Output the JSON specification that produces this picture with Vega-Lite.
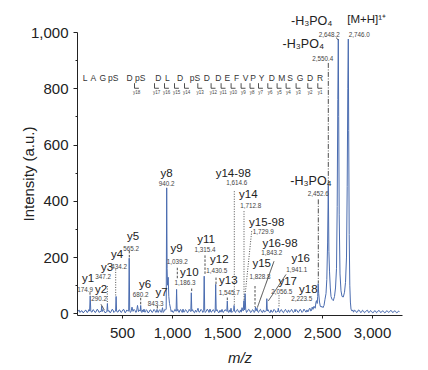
{
  "$schema": "https://vega.github.io/schema/vega-lite/v6.json",
  "width": 325,
  "height": 283,
  "autosize": {"type": "none"},
  "padding": {"left": 77, "top": 32, "right": 26, "bottom": 55},
  "background": "white",
  "config": {
    "view": {"stroke": null},
    "font": "Liberation Sans",
    "axis": {"grid": false, "domainColor": "#222", "tickColor": "#222", "labelColor": "#222", "titleColor": "#222", "labelFontSize": 15, "titleFontSize": 15, "titleFontWeight": "normal", "labelFont": "Liberation Sans", "titleFont": "Liberation Sans"}
  },
  "datasets": {
    "spec": [
      {"m":60,"i":6},{"m":70,"i":12},{"m":80,"i":3},{"m":90,"i":8},{"m":100,"i":9},{"m":110,"i":2},{"m":120,"i":4},{"m":130,"i":10},{"m":140,"i":11},{"m":150,"i":3},{"m":160,"i":5},{"m":168,"i":13},
      {"m":176,"i":8},{"m":182,"i":62},{"m":188,"i":7},
      {"m":200,"i":4},{"m":210,"i":13},{"m":220,"i":10},{"m":230,"i":3},{"m":240,"i":5},{"m":250,"i":14},{"m":260,"i":12},{"m":270,"i":3},{"m":280,"i":6},
      {"m":292,"i":7},{"m":297,"i":25},{"m":302,"i":6},
      {"m":310,"i":13},{"m":320,"i":9},{"m":330,"i":2},{"m":340,"i":4},
      {"m":349,"i":6},{"m":354,"i":35},{"m":359,"i":7},
      {"m":370,"i":10},{"m":380,"i":2},{"m":390,"i":5},{"m":400,"i":14},{"m":410,"i":12},{"m":418,"i":3},{"m":425,"i":6},
      {"m":436,"i":8},{"m":441,"i":60},{"m":446,"i":7},
      {"m":460,"i":4},{"m":470,"i":12},{"m":480,"i":11},{"m":490,"i":3},{"m":500,"i":6},{"m":510,"i":13},{"m":520,"i":13},{"m":530,"i":2},{"m":540,"i":5},{"m":548,"i":12},{"m":555,"i":9},
      {"m":567,"i":8},{"m":572,"i":196},{"m":577,"i":10},
      {"m":584,"i":3},{"m":590,"i":6},{"m":600,"i":22},{"m":610,"i":7},{"m":620,"i":14},{"m":630,"i":10},{"m":638,"i":3},{"m":645,"i":5},{"m":655,"i":28},{"m":665,"i":6},{"m":673,"i":12},
      {"m":682,"i":8},{"m":687,"i":28},{"m":692,"i":7},
      {"m":698,"i":3},{"m":705,"i":12},{"m":712,"i":5},{"m":720,"i":15},{"m":728,"i":4},{"m":735,"i":5},{"m":743,"i":13},{"m":750,"i":10},{"m":760,"i":2},{"m":770,"i":4},{"m":780,"i":12},{"m":790,"i":11},{"m":800,"i":3},{"m":810,"i":6},{"m":820,"i":14},{"m":830,"i":9},{"m":838,"i":3},
      {"m":845,"i":5},{"m":850,"i":14},{"m":855,"i":6},
      {"m":862,"i":3},{"m":870,"i":10},{"m":878,"i":13},{"m":885,"i":5},{"m":895,"i":4},{"m":905,"i":20},{"m":912,"i":3},{"m":920,"i":7},{"m":928,"i":14},{"m":935,"i":12},
      {"m":942,"i":15},{"m":947,"i":446},{"m":951,"i":160},{"m":955,"i":100},{"m":962,"i":128},{"m":968,"i":60},{"m":975,"i":35},{"m":985,"i":18},{"m":992,"i":6},{"m":1000,"i":10},
      {"m":1010,"i":3},{"m":1020,"i":6},{"m":1028,"i":14},{"m":1035,"i":12},
      {"m":1041,"i":7},{"m":1046,"i":85},{"m":1051,"i":9},
      {"m":1058,"i":14},{"m":1065,"i":5},{"m":1072,"i":3},{"m":1080,"i":12},{"m":1088,"i":13},{"m":1095,"i":6},{"m":1102,"i":3},{"m":1110,"i":15},{"m":1118,"i":4},{"m":1125,"i":5},{"m":1135,"i":13},{"m":1145,"i":10},{"m":1155,"i":2},{"m":1165,"i":7},{"m":1172,"i":14},{"m":1180,"i":9},
      {"m":1188,"i":6},{"m":1193,"i":73},{"m":1198,"i":8},
      {"m":1206,"i":13},{"m":1215,"i":5},{"m":1225,"i":2},{"m":1235,"i":11},{"m":1245,"i":4},{"m":1252,"i":10},{"m":1260,"i":18},{"m":1270,"i":4},{"m":1280,"i":6},{"m":1290,"i":14},{"m":1300,"i":10},{"m":1308,"i":3},
      {"m":1317,"i":9},{"m":1322,"i":132},{"m":1327,"i":10},
      {"m":1333,"i":3},{"m":1340,"i":6},{"m":1350,"i":14},{"m":1360,"i":12},{"m":1370,"i":3},{"m":1380,"i":15},{"m":1390,"i":4},{"m":1400,"i":6},{"m":1410,"i":13},{"m":1420,"i":10},{"m":1426,"i":3},
      {"m":1432,"i":8},{"m":1437,"i":103},{"m":1442,"i":9},
      {"m":1450,"i":13},{"m":1460,"i":5},{"m":1470,"i":2},{"m":1480,"i":11},{"m":1490,"i":4},{"m":1500,"i":14},{"m":1510,"i":3},{"m":1520,"i":6},{"m":1530,"i":13},{"m":1540,"i":10},
      {"m":1548,"i":7},{"m":1553,"i":44},{"m":1558,"i":8},
      {"m":1566,"i":3},{"m":1575,"i":12},{"m":1582,"i":4},{"m":1590,"i":18},{"m":1598,"i":3},{"m":1605,"i":6},
      {"m":1616,"i":9},{"m":1621,"i":28},{"m":1626,"i":7},
      {"m":1635,"i":3},{"m":1645,"i":11},{"m":1655,"i":14},{"m":1665,"i":5},{"m":1675,"i":3},{"m":1685,"i":12},{"m":1692,"i":4},{"m":1700,"i":20},{"m":1712,"i":8},
      {"m":1719,"i":45},{"m":1725,"i":12},{"m":1731,"i":70},{"m":1737,"i":15},
      {"m":1745,"i":3},{"m":1755,"i":8},{"m":1765,"i":14},{"m":1775,"i":12},{"m":1785,"i":3},{"m":1795,"i":5},{"m":1805,"i":13},{"m":1815,"i":10},{"m":1822,"i":3},
      {"m":1830,"i":8},{"m":1835,"i":22},{"m":1841,"i":9},{"m":1850,"i":18},{"m":1856,"i":7},
      {"m":1865,"i":3},{"m":1875,"i":11},{"m":1885,"i":14},{"m":1895,"i":5},{"m":1905,"i":3},{"m":1915,"i":12},{"m":1925,"i":4},{"m":1935,"i":8},
      {"m":1943,"i":9},{"m":1948,"i":52},{"m":1953,"i":8},
      {"m":1960,"i":13},{"m":1970,"i":6},{"m":1980,"i":2},{"m":1990,"i":12},{"m":2000,"i":4},{"m":2010,"i":5},{"m":2020,"i":14},{"m":2030,"i":10},{"m":2040,"i":3},{"m":2050,"i":7},
      {"m":2058,"i":6},{"m":2063,"i":18},{"m":2068,"i":7},
      {"m":2076,"i":3},{"m":2085,"i":11},{"m":2095,"i":13},{"m":2105,"i":5},{"m":2115,"i":2},{"m":2125,"i":10},{"m":2135,"i":14},{"m":2145,"i":6},{"m":2155,"i":3},{"m":2165,"i":12},{"m":2175,"i":4},{"m":2185,"i":7},{"m":2195,"i":14},{"m":2205,"i":9},{"m":2212,"i":3},{"m":2220,"i":5},
      {"m":2226,"i":7},{"m":2230,"i":14},{"m":2235,"i":6},
      {"m":2242,"i":13},{"m":2250,"i":10},{"m":2260,"i":3},{"m":2270,"i":6},{"m":2280,"i":14},{"m":2290,"i":11},{"m":2300,"i":3},{"m":2310,"i":7},{"m":2320,"i":15},{"m":2330,"i":9},{"m":2340,"i":4},{"m":2350,"i":12},{"m":2358,"i":5},{"m":2365,"i":8},{"m":2372,"i":16},{"m":2380,"i":18},{"m":2388,"i":8},{"m":2395,"i":10},{"m":2402,"i":22},{"m":2410,"i":14},{"m":2420,"i":25},{"m":2432,"i":18},{"m":2440,"i":40},{"m":2445,"i":45},{"m":2452,"i":35},{"m":2457,"i":60},{"m":2462,"i":105},{"m":2467,"i":70},{"m":2475,"i":40},{"m":2483,"i":25},{"m":2490,"i":22},{"m":2500,"i":25},{"m":2510,"i":20},{"m":2520,"i":28},{"m":2530,"i":50},{"m":2540,"i":70},{"m":2548,"i":120},{"m":2556,"i":250},{"m":2563,"i":460},{"m":2569,"i":220},{"m":2575,"i":150},{"m":2583,"i":90},{"m":2590,"i":60},{"m":2600,"i":50},{"m":2613,"i":45},{"m":2625,"i":60},{"m":2635,"i":90},{"m":2645,"i":160},{"m":2652,"i":380},{"m":2658,"i":760},{"m":2663,"i":975},{"m":2667,"i":700},{"m":2672,"i":350},{"m":2680,"i":140},{"m":2690,"i":80},{"m":2700,"i":60},{"m":2713,"i":58},{"m":2725,"i":75},{"m":2735,"i":110},{"m":2745,"i":200},{"m":2752,"i":450},{"m":2758,"i":800},{"m":2763,"i":975},{"m":2767,"i":650},{"m":2772,"i":280},{"m":2778,"i":100},{"m":2784,"i":40},{"m":2790,"i":15},{"m":2800,"i":8},
      {"m":2808,"i":12},{"m":2815,"i":4},{"m":2825,"i":11},{"m":2835,"i":9},{"m":2845,"i":3},{"m":2855,"i":5},{"m":2865,"i":12},{"m":2875,"i":10},{"m":2885,"i":3},{"m":2895,"i":4},{"m":2905,"i":11},{"m":2915,"i":8},{"m":2925,"i":2},{"m":2935,"i":5},{"m":2945,"i":10},{"m":2955,"i":11},{"m":2965,"i":3},{"m":2975,"i":4},{"m":2985,"i":10},{"m":2995,"i":7},{"m":3005,"i":2},{"m":3015,"i":3},{"m":3025,"i":9},{"m":3035,"i":8},{"m":3045,"i":2},{"m":3055,"i":5},{"m":3065,"i":10},{"m":3075,"i":9},{"m":3085,"i":3},{"m":3095,"i":4},{"m":3105,"i":9},{"m":3115,"i":7},{"m":3125,"i":2},{"m":3135,"i":3},{"m":3145,"i":9},{"m":3155,"i":8},{"m":3165,"i":3},{"m":3175,"i":5},{"m":3185,"i":10},{"m":3195,"i":9},{"m":3205,"i":3},{"m":3215,"i":4},{"m":3225,"i":9},{"m":3235,"i":7},{"m":3245,"i":2},{"m":3255,"i":3},{"m":3265,"i":8},{"m":3275,"i":6}
    ],
    "leaders": [
      {"x":180,"y":75,"x2":180,"y2":64,"d":"dash"},
      {"x":353,"y":97,"x2":353,"y2":38,"d":"dot"},
      {"x":290,"y":32,"x2":323,"y2":12,"d":"solid"},
      {"x":437,"y":156,"x2":437,"y2":62,"d":"dot"},
      {"x":573,"y":222,"x2":573,"y2":198,"d":"dash"},
      {"x":687,"y":55,"x2":687,"y2":30,"d":"dash"},
      {"x":853,"y":26,"x2":853,"y2":15,"d":"dash"},
      {"x":1053,"y":162,"x2":1053,"y2":121,"d":"dash"},
      {"x":1197,"y":88,"x2":1197,"y2":74,"d":"dash"},
      {"x":1330,"y":206,"x2":1330,"y2":135,"d":"dash"},
      {"x":1440,"y":127,"x2":1440,"y2":104,"d":"dash"},
      {"x":1553,"y":56,"x2":1553,"y2":45,"d":"dash"},
      {"x":1623,"y":434,"x2":1623,"y2":29,"d":"dot"},
      {"x":1720,"y":363,"x2":1720,"y2":46,"d":"dot"},
      {"x":1797,"y":292,"x2":1733,"y2":72,"d":"dot"},
      {"x":1830,"y":97,"x2":1830,"y2":22,"d":"dash"},
      {"x":2020,"y":185,"x2":1853,"y2":20,"d":"solid"},
      {"x":2140,"y":138,"x2":1963,"y2":44,"d":"solid"},
      {"x":2070,"y":64,"x2":2070,"y2":20,"d":"dot"},
      {"x":2463,"y":405,"x2":2463,"y2":106,"d":"dashdot"},
      {"x":2563,"y":890,"x2":2563,"y2":462,"d":"dashdot"},
      {"x":2640,"y":980,"x2":2663,"y2":972,"d":"solid"}
    ],
    "brackets": [
      {"x":625,"x2":625,"y":818,"y2":800},{"x":625,"x2":669,"y":800,"y2":800},
      {"x":825,"x2":825,"y":818,"y2":800},{"x":825,"x2":869,"y":800,"y2":800},
      {"x":925,"x2":925,"y":818,"y2":800},{"x":925,"x2":969,"y":800,"y2":800},
      {"x":1025,"x2":1025,"y":818,"y2":800},{"x":1025,"x2":1069,"y":800,"y2":800},
      {"x":1125,"x2":1125,"y":818,"y2":800},{"x":1125,"x2":1169,"y":800,"y2":800},
      {"x":1258,"x2":1258,"y":818,"y2":800},{"x":1258,"x2":1302,"y":800,"y2":800},
      {"x":1391,"x2":1391,"y":818,"y2":800},{"x":1391,"x2":1435,"y":800,"y2":800},
      {"x":1491,"x2":1491,"y":818,"y2":800},{"x":1491,"x2":1535,"y":800,"y2":800},
      {"x":1591,"x2":1591,"y":818,"y2":800},{"x":1591,"x2":1635,"y":800,"y2":800},
      {"x":1691,"x2":1691,"y":818,"y2":800},{"x":1691,"x2":1735,"y":800,"y2":800},
      {"x":1780,"x2":1780,"y":818,"y2":800},{"x":1780,"x2":1824,"y":800,"y2":800},
      {"x":1865,"x2":1865,"y":818,"y2":800},{"x":1865,"x2":1909,"y":800,"y2":800},
      {"x":1958,"x2":1958,"y":818,"y2":800},{"x":1958,"x2":2002,"y":800,"y2":800},
      {"x":2051,"x2":2051,"y":818,"y2":800},{"x":2051,"x2":2095,"y":800,"y2":800},
      {"x":2141,"x2":2141,"y":818,"y2":800},{"x":2141,"x2":2185,"y":800,"y2":800},
      {"x":2241,"x2":2241,"y":818,"y2":800},{"x":2241,"x2":2285,"y":800,"y2":800},
      {"x":2358,"x2":2358,"y":818,"y2":800},{"x":2358,"x2":2402,"y":800,"y2":800},
      {"x":2458,"x2":2458,"y":818,"y2":800},{"x":2458,"x2":2502,"y":800,"y2":800}
    ],
    "bracketLabels": [
      {"t":"y18","x":647},{"t":"y17","x":847},{"t":"y16","x":947},{"t":"y15","x":1047},{"t":"y14","x":1147},{"t":"y13","x":1280},{"t":"y12","x":1413},{"t":"y11","x":1513},{"t":"y10","x":1613},{"t":"y9","x":1713},{"t":"y8","x":1802},{"t":"y7","x":1887},{"t":"y6","x":1980},{"t":"y5","x":2073},{"t":"y4","x":2163},{"t":"y3","x":2263},{"t":"y2","x":2380},{"t":"y1","x":2480}
    ],
    "residues": [
      {"t":"L","x":130},{"t":"A","x":213},{"t":"G","x":307},{"t":"pS","x":413},{"t":"D","x":575},{"t":"pS","x":682},{"t":"D","x":863},{"t":"L","x":953},{"t":"D","x":1080},{"t":"pS","x":1230},{"t":"D","x":1347},{"t":"D","x":1463},{"t":"E","x":1553},{"t":"F","x":1646},{"t":"V","x":1735},{"t":"P","x":1812},{"t":"Y","x":1897},{"t":"D","x":1997},{"t":"M","x":2097},{"t":"S","x":2180},{"t":"G","x":2280},{"t":"D","x":2380},{"t":"R","x":2480}
    ],
    "ions": [
      {"t":"y1","x":160,"y":121},{"t":"y2","x":290,"y":82},{"t":"y3","x":350,"y":162},{"t":"y4","x":450,"y":206},{"t":"y5","x":610,"y":270},{"t":"y6","x":730,"y":99},{"t":"y7","x":897,"y":71},{"t":"y8","x":947,"y":496},{"t":"y9","x":1047,"y":227},{"t":"y10","x":1173,"y":144},{"t":"y11","x":1340,"y":262},{"t":"y12","x":1473,"y":189},{"t":"y13","x":1563,"y":115},{"t":"y14-98","x":1613,"y":496},{"t":"y14","x":1763,"y":422},{"t":"y15-98","x":1947,"y":321},{"t":"y16-98","x":2080,"y":245},{"t":"y15","x":1897,"y":174},{"t":"y16","x":2287,"y":194},{"t":"y17","x":2157,"y":111},{"t":"y18","x":2363,"y":83}
    ],
    "masses": [
      {"t":"174.9","x":130,"y":82},{"t":"290.2","x":270,"y":50},{"t":"347.2","x":310,"y":128},{"t":"434.2","x":470,"y":165},{"t":"565.2","x":590,"y":230},{"t":"680.2","x":687,"y":64},{"t":"843.3","x":837,"y":32},{"t":"940.2","x":947,"y":460},{"t":"1,039.2","x":1053,"y":183},{"t":"1,186.3","x":1130,"y":106},{"t":"1,315.4","x":1330,"y":224},{"t":"1,430.5","x":1447,"y":150},{"t":"1,545.7","x":1573,"y":73},{"t":"1,614.6","x":1647,"y":463},{"t":"1,712.8","x":1787,"y":383},{"t":"1,729.9","x":1913,"y":288},{"t":"1,843.2","x":1997,"y":213},{"t":"1,828.8","x":1880,"y":130},{"t":"1,941.1","x":2247,"y":154},{"t":"2,056.5","x":2097,"y":76},{"t":"2,223.5","x":2297,"y":50},{"t":"2,452.6","x":2463,"y":424},{"t":"2,648.2","x":2573,"y":990},{"t":"2,746.0","x":2873,"y":990},{"t":"2,550.4","x":2507,"y":903}
    ],
    "big": [
      {"t":"-H₃PO₄","x":2397,"y":1040},{"t":"-H₃PO₄","x":2313,"y":957},{"t":"-H₃PO₄","x":2390,"y":469}
    ],
    "mh": [
      {"t":"[M+H]¹⁺","x":2947,"y":1043}
    ]
  },
  "resolve": {"axis": {"y": "independent"}},
  "layer": [
    {
      "data": {"name": "spec"},
      "mark": {"type": "line", "color": "#4a6cb0", "strokeWidth": 1},
      "encoding": {
        "x": {"field": "m", "type": "quantitative", "scale": {"domain": [50, 3300], "nice": false, "zero": false},
              "axis": {"values": [500, 1000, 1500, 2000, 2500, 3000], "format": ",d", "tickSize": 3, "labelPadding": 7, "title": "m/z", "titleFontStyle": "italic", "titlePadding": 10}},
        "y": {"field": "i", "type": "quantitative", "scale": {"domain": [-6, 1000], "nice": false, "zero": false},
              "axis": {"orient": "left", "values": [0, 200, 400, 600, 800, 1000], "format": ",d", "tickSize": 4, "labelPadding": 5, "title": "Intensity (a.u.)", "titlePadding": -6}}
      }
    },
    {
      "data": {"name": "leaders"},
      "mark": {"type": "rule", "color": "#222", "strokeWidth": 0.8},
      "encoding": {
        "x": {"field": "x", "type": "quantitative"},
        "x2": {"field": "x2"},
        "y": {"field": "y", "type": "quantitative", "axis": {"orient": "left", "values": [100, 300, 500, 700, 900], "labels": false, "domain": false, "tickSize": 2, "title": null}},
        "y2": {"field": "y2"},
        "strokeDash": {"field": "d", "type": "nominal", "legend": null,
          "scale": {"domain": ["dot", "dash", "dashdot", "solid"], "range": [[1, 1.5], [2.5, 1.5], [5, 1.5, 1, 1.5], [1, 0]]}}
      }
    },
    {
      "data": {"name": "brackets"},
      "mark": {"type": "rule", "color": "#222", "strokeWidth": 0.8},
      "encoding": {
        "x": {"field": "x", "type": "quantitative"},
        "x2": {"field": "x2"},
        "y": {"field": "y", "type": "quantitative", "axis": null},
        "y2": {"field": "y2"}
      }
    },
    {
      "data": {"name": "residues"},
      "mark": {"type": "text", "fontSize": 8.5, "color": "#333", "align": "center", "baseline": "middle"},
      "encoding": {
        "x": {"field": "x", "type": "quantitative"},
        "y": {"datum": 835, "type": "quantitative", "axis": null},
        "text": {"field": "t"}
      }
    },
    {
      "data": {"name": "bracketLabels"},
      "mark": {"type": "text", "fontSize": 4.5, "color": "#444", "align": "center", "baseline": "middle"},
      "encoding": {
        "x": {"field": "x", "type": "quantitative"},
        "y": {"datum": 784, "type": "quantitative", "axis": null},
        "text": {"field": "t"}
      }
    },
    {
      "data": {"name": "ions"},
      "mark": {"type": "text", "fontSize": 11.5, "color": "#222", "align": "center", "baseline": "middle"},
      "encoding": {
        "x": {"field": "x", "type": "quantitative"},
        "y": {"field": "y", "type": "quantitative", "axis": null},
        "text": {"field": "t"}
      }
    },
    {
      "data": {"name": "masses"},
      "mark": {"type": "text", "fontSize": 6.3, "color": "#444", "align": "center", "baseline": "middle"},
      "encoding": {
        "x": {"field": "x", "type": "quantitative"},
        "y": {"field": "y", "type": "quantitative", "axis": null},
        "text": {"field": "t"}
      }
    },
    {
      "data": {"name": "big"},
      "mark": {"type": "text", "fontSize": 12.5, "color": "#222", "align": "center", "baseline": "middle"},
      "encoding": {
        "x": {"field": "x", "type": "quantitative"},
        "y": {"field": "y", "type": "quantitative", "axis": null},
        "text": {"field": "t"}
      }
    },
    {
      "data": {"name": "mh"},
      "mark": {"type": "text", "fontSize": 11.5, "color": "#222", "align": "center", "baseline": "middle"},
      "encoding": {
        "x": {"field": "x", "type": "quantitative"},
        "y": {"field": "y", "type": "quantitative", "axis": null},
        "text": {"field": "t"}
      }
    }
  ]
}
